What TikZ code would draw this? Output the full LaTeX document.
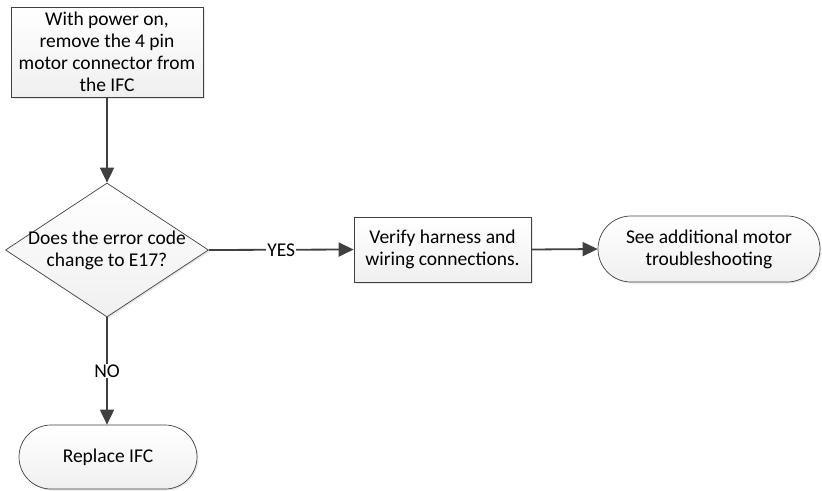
\documentclass[tikz,border=0pt]{standalone}
\usepackage{fontspec}
\setmainfont{Carlito}
\usetikzlibrary{arrows.meta, shapes.geometric, shapes.misc, shadows, positioning}
\definecolor{edge}{RGB}{64,64,64}

\begin{document}
\begin{tikzpicture}[x=1pt, y=-1pt, >={Triangle[length=15pt,width=14pt]},
    font=\fontsize{19.5}{22}\selectfont,
    box/.style={draw=edge, line width=0.7pt, top color=white, bottom color=gray!12,
        drop shadow={shadow xshift=1.5pt, shadow yshift=-1.5pt, fill=gray!35},
        align=center, inner sep=0pt},
    flow/.style={->, draw=edge, line width=1.8pt},
    tag/.style={fill=white, inner sep=1pt}]
    \useasboundingbox (0,0) rectangle (822,490);

    % Steps
    \node[box, minimum width=192pt, minimum height=90pt] (unplug) at (107,52)
        {With power on,\\remove the 4 pin\\motor connector from\\the IFC};
    \node[box, diamond, aspect=1.5, inner sep=-5pt, minimum width=203pt, minimum height=134pt] (check) at (107,250)
        {Does the error code\\change to E17?};
    \node[box, minimum width=177pt, minimum height=65pt] (verify) at (442.5,249.5)
        {Verify harness and\\wiring connections.};
    \node[box, rounded rectangle, minimum width=222pt, minimum height=66pt] (motor) at (709,249)
        {See additional motor\\troubleshooting};
    \node[box, rounded rectangle, minimum width=178pt, minimum height=64pt] (replace) at (108,457)
        {Replace IFC};

    % Connectors
    \draw[flow] (unplug) -- (check);
    \draw[flow] (check.east) -- node[tag] {YES} (verify.west);
    \draw[flow] (verify.east) -- (motor.west);
    \draw[flow] (check.south) -- node[tag, pos=0.5] {NO} (check.south |- replace.north);
\end{tikzpicture}
\end{document}
